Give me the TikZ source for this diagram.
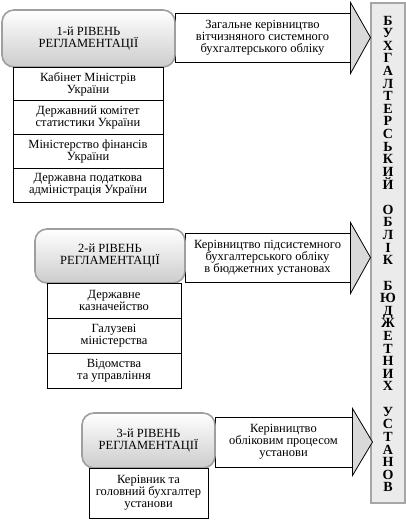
\documentclass[tikz,border=0pt]{standalone}
\usepackage{fontspec}
\setmainfont{Liberation Serif}
\usetikzlibrary{positioning}
\tikzset{
    level_box/.style={rectangle, draw=gray!75, line width=1.6pt, rounded corners=12pt, top color=white, bottom color=gray!40, align=center, inner sep=0pt, font=\fontsize{12.5}{12}\selectfont},
    unit_box/.style={rectangle, draw, line width=1pt, fill=white, align=center, inner sep=0pt, outer sep=0pt, font=\fontsize{12.5}{12}\selectfont},
    task_body/.style={rectangle, draw, line width=1pt, fill=white, align=center, inner sep=0pt, font=\fontsize{12.5}{12}\selectfont},
    arrow_head/.style={draw, line width=0.8pt, fill=gray!30},
    column_box/.style={rectangle, draw=gray!70, line width=2.5pt, fill=gray!16, inner sep=0pt},
    letter/.style={anchor=base, inner sep=0pt, font=\fontsize{14}{14}\selectfont\bfseries}
}
\begin{document}
\begin{tikzpicture}[x=1pt, y=-1pt]
            \useasboundingbox (0,0) rectangle (406,520);
            % right column
            \node (column) [column_box, minimum width=34pt, minimum height=500pt] at (388,253) {};
            \foreach \ch [count=\i] in {Б,У,Х,Г,А,Л,Т,Е,Р,С,Ь,К,И,Й,{},О,Б,Л,І,К,{},Б,Ю,Д,Ж,Е,Т,Н,И,Х,{},У,С,Т,А,Н,О,В}
                \node (letter\i) [letter] at (388,{25+12.62*(\i-1)}) {\ch};

            % level 1
            \node (task1) [task_body, minimum width=175pt, minimum height=49pt] at (262.5,37.5) {Загальне керівництво\\вітчизняного системного\\бухгалтерського обліку};
            \draw [arrow_head] ([yshift=10pt]task1.north east) -- ([xshift=20pt]task1.east) -- ([yshift=-11pt]task1.south east) -- cycle;
            \node (level1) [level_box, minimum width=173pt, minimum height=57pt] at (88.5,38.5) {1-й РІВЕНЬ\\РЕГЛАМЕНТАЦІЇ};
            \node (cabinet) [unit_box, minimum width=150pt, minimum height=33.75pt] at (88,83.9) {Кабінет Міністрів\\України};
            \node (statcom) [unit_box, below=0pt of cabinet, minimum width=150pt, minimum height=33.75pt] {Державний комітет\\статистики України};
            \node (minfin) [unit_box, below=0pt of statcom, minimum width=150pt, minimum height=33.75pt] {Міністерство фінансів\\України};
            \node (taxadm) [unit_box, below=0pt of minfin, minimum width=150pt, minimum height=33.75pt] {Державна податкова\\адміністрація України};

            % level 2
            \node (task2) [task_body, minimum width=165pt, minimum height=49pt] at (267.5,257.5) {Керівництво підсистемного\\бухгалтерського обліку\\в бюджетних установах};
            \draw [arrow_head] ([yshift=10pt]task2.north east) -- ([xshift=20pt]task2.east) -- ([yshift=-11pt]task2.south east) -- cycle;
            \node (level2) [level_box, minimum width=150pt, minimum height=54pt] at (110,256) {2-й РІВЕНЬ\\РЕГЛАМЕНТАЦІЇ};
            \node (treasury) [unit_box, minimum width=134pt, minimum height=35pt] at (114,300.5) {Державне\\казначейство};
            \node (branch) [unit_box, below=0pt of treasury, minimum width=134pt, minimum height=35pt] {Галузеві\\міністерства};
            \node (agency) [unit_box, below=0pt of branch, minimum width=134pt, minimum height=35pt] {Відомства\\та управління};

            % level 3
            \node (task3) [task_body, minimum width=137pt, minimum height=50pt] at (283.5,442) {Керівництво\\обліковим процесом\\установи};
            \draw [arrow_head] ([yshift=8pt]task3.north east) -- ([xshift=20pt]task3.east) -- ([yshift=-8pt]task3.south east) -- cycle;
            \node (level3) [level_box, minimum width=133pt, minimum height=55pt] at (148.5,440.5) {3-й РІВЕНЬ\\РЕГЛАМЕНТАЦІЇ};
            \node (head) [unit_box, minimum width=119pt, minimum height=50pt] at (148.5,493) {Керівник та\\головний бухгалтер\\установи};
\end{tikzpicture}
\end{document}
